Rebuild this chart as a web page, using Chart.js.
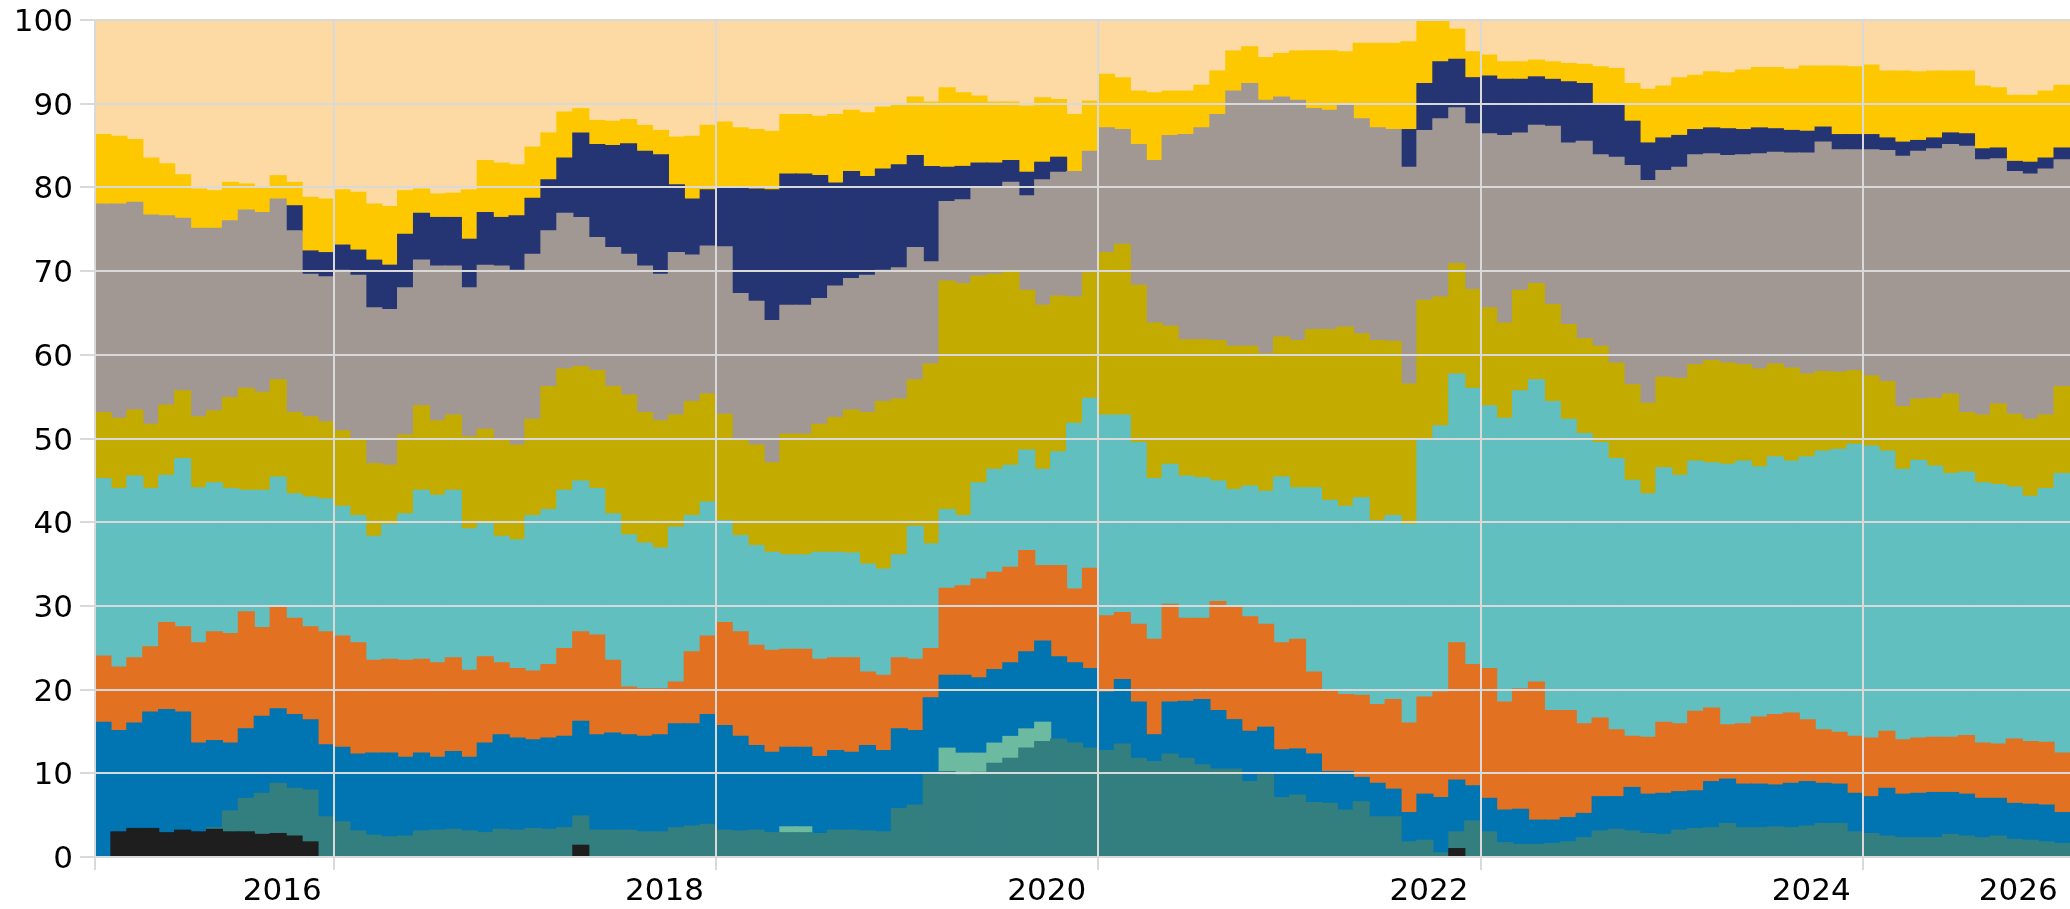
<!DOCTYPE html>
<html>
<head>
<meta charset="utf-8">
<script src="https://cdn.jsdelivr.net/npm/chart.js@4.4.1/dist/chart.umd.min.js"></script>
<style>
    html, body { margin: 0; padding: 0; background: #fff; }
    #wrap { width: 2070px; height: 909px; }
</style>
</head>
<body>
<div id="wrap"><canvas id="mixChart" width="2070" height="909"></canvas></div>
<script>
// Monthly categories, Oct 2014 .. Jan 2025 (124 bars)
const firstYear = 2014, firstMonth = 10, monthCount = 124;
const months = [];
for (let i = 0; i < monthCount; i++) {
    const m = firstMonth - 1 + i;
    months.push((firstYear + Math.floor(m / 12)) + '-' + String(m % 12 + 1).padStart(2, '0'));
}

// x axis: year labels, the month each label sits on, and the months carrying a grid line
const yearLabels  = ['2016', '2018', '2020', '2022', '2024', '2026'];
const yearLabelAt = ['2015-09', '2017-09', '2019-09', '2021-09', '2023-09', '2024-10'];
const yearLineAt  = ['2014-10', '2016-01', '2018-01', '2020-01', '2022-01', '2024-01'];

// Upper edge of each band (stacked level, %).
// Where a band is absent its edge equals the one below it.
const blackTop = [
    0, 3.0, 3.4, 3.4, 2.9, 3.2, 3.0, 3.3, 3.0, 3.0, 2.7, 2.8, 2.5, 1.8, 0, 0, 0, 0, 0, 0,
    0, 0, 0, 0, 0, 0, 0, 0, 0, 0, 1.4, 0, 0, 0, 0, 0, 0, 0, 0, 0,
    0, 0, 0, 0, 0, 0, 0, 0, 0, 0, 0, 0, 0, 0, 0, 0, 0, 0, 0, 0,
    0, 0, 0, 0, 0, 0, 0, 0, 0, 0, 0, 0, 0, 0, 0, 0, 0, 0, 0, 0,
    0, 0, 0, 0, 0, 1.0, 0, 0, 0, 0, 0, 0, 0, 0, 0, 0, 0, 0, 0, 0,
    0, 0, 0, 0, 0, 0, 0, 0, 0, 0, 0, 0, 0, 0, 0, 0, 0, 0, 0, 0, 0, 0, 0, 0
];
const tealTop = [
    0, 3.0, 3.4, 3.4, 2.9, 3.2, 3.0, 3.5, 5.5, 7.0, 7.6, 8.8, 8.2, 8.0, 4.8, 4.2, 3.1, 2.6, 2.4, 2.5,
    3.1, 3.2, 3.3, 3.1, 2.9, 3.3, 3.2, 3.4, 3.3, 3.5, 4.9, 3.2, 3.2, 3.2, 3.0, 3.0, 3.5, 3.7, 3.9, 3.2,
    3.1, 3.2, 2.9, 2.9, 2.9, 2.8, 3.2, 3.2, 3.1, 3.0, 5.8, 6.2, 9.8, 10.2, 9.8, 10.1, 11.2, 11.8, 13.0, 13.8,
    14.1, 13.6, 13.0, 12.7, 13.5, 11.8, 11.4, 12.3, 11.8, 11.0, 10.5, 10.5, 9.0, 9.8, 7.1, 7.4, 6.5, 6.4, 5.6, 6.6,
    4.8, 4.8, 1.8, 2.0, 0.5, 3.0, 4.3, 3.0, 1.7, 1.5, 1.5, 1.6, 1.8, 2.3, 3.1, 3.3, 3.1, 2.8, 2.7, 3.2,
    3.4, 3.5, 4.0, 3.5, 3.5, 3.6, 3.5, 3.7, 4.0, 4.0, 3.0, 2.8, 2.5, 2.3, 2.3, 2.3, 2.7, 2.5, 2.3, 2.5, 2.1, 2.0, 1.8, 1.6
];
const greenTop = [
    0, 3.0, 3.4, 3.4, 2.9, 3.2, 3.0, 3.5, 5.5, 7.0, 7.6, 8.8, 8.2, 8.0, 4.8, 4.2, 3.1, 2.6, 2.4, 2.5,
    3.1, 3.2, 3.3, 3.1, 2.9, 3.3, 3.2, 3.4, 3.3, 3.5, 4.9, 3.2, 3.2, 3.2, 3.0, 3.0, 3.5, 3.7, 3.9, 3.2,
    3.1, 3.2, 2.9, 3.6, 3.6, 2.8, 3.2, 3.2, 3.1, 3.0, 5.8, 6.2, 9.8, 13.0, 12.4, 12.4, 13.6, 14.4, 15.3, 16.1,
    14.1, 13.6, 13.0, 12.7, 13.5, 11.8, 11.4, 12.3, 11.8, 11.0, 10.5, 10.5, 9.0, 9.8, 7.1, 7.4, 6.5, 6.4, 5.6, 6.6,
    4.8, 4.8, 1.8, 2.0, 0.5, 3.0, 4.3, 3.0, 1.7, 1.5, 1.5, 1.6, 1.8, 2.3, 3.1, 3.3, 3.1, 2.8, 2.7, 3.2,
    3.4, 3.5, 4.0, 3.5, 3.5, 3.6, 3.5, 3.7, 4.0, 4.0, 3.0, 2.8, 2.5, 2.3, 2.3, 2.3, 2.7, 2.5, 2.3, 2.5, 2.1, 2.0, 1.8, 1.6
];
const blueTop = [
    16.1, 15.1, 16.0, 17.3, 17.6, 17.3, 13.6, 13.9, 13.6, 15.3, 16.8, 17.7, 17.0, 16.4, 13.4, 13.1, 12.3, 12.4, 12.4, 11.9,
    12.4, 11.9, 12.6, 11.9, 13.6, 14.6, 14.2, 14.0, 14.2, 14.4, 16.2, 14.6, 14.8, 14.6, 14.4, 14.6, 15.9, 15.9, 17.0, 15.7,
    14.4, 13.3, 12.5, 13.1, 13.1, 12.0, 12.7, 12.5, 13.3, 12.7, 15.3, 15.1, 19.0, 21.7, 21.7, 21.4, 22.4, 23.2, 24.5, 25.8,
    23.9, 23.2, 22.5, 19.7, 21.2, 18.5, 14.6, 18.5, 18.6, 18.8, 17.5, 16.4, 15.0, 15.5, 12.8, 12.9, 12.3, 10.2, 10.2, 9.5,
    8.8, 8.1, 5.3, 7.5, 7.1, 9.2, 8.5, 7.0, 5.6, 5.7, 4.4, 4.4, 4.7, 5.2, 7.2, 7.2, 8.3, 7.5, 7.6, 7.8,
    7.9, 9.0, 9.3, 8.7, 8.7, 8.6, 8.8, 9.0, 8.8, 8.7, 7.6, 7.2, 8.2, 7.5, 7.6, 7.7, 7.7, 7.5, 7.0, 7.0, 6.4, 6.3, 6.2, 5.3
];
const orangeTop = [
    24.0, 22.7, 23.8, 25.1, 28.0, 27.5, 25.6, 26.9, 26.7, 29.3, 27.4, 29.8, 28.5, 27.5, 26.9, 26.4, 25.6, 23.5, 23.6, 23.5,
    23.6, 23.2, 23.8, 22.3, 23.9, 23.2, 22.5, 22.2, 23.0, 24.9, 26.9, 26.5, 23.5, 20.3, 20.1, 20.1, 20.9, 24.5, 26.4, 28.0,
    26.9, 25.3, 24.7, 24.8, 24.8, 23.6, 23.8, 23.8, 22.1, 21.7, 23.8, 23.6, 24.9, 32.1, 32.4, 33.2, 34.0, 34.6, 36.6, 34.8,
    34.8, 32.0, 34.5, 28.8, 29.2, 27.8, 26.0, 30.2, 28.5, 28.5, 30.5, 29.8, 28.7, 27.8, 25.6, 26.0, 22.1, 20.0, 19.4, 19.3,
    18.2, 18.8, 16.0, 19.1, 19.7, 25.6, 23.0, 22.5, 18.5, 20.1, 20.9, 17.5, 17.5, 15.9, 16.6, 15.2, 14.4, 14.3, 16.1, 15.9,
    17.4, 17.8, 15.8, 15.9, 16.7, 17.0, 17.2, 16.4, 15.2, 14.9, 14.4, 14.2, 15.0, 14.0, 14.2, 14.3, 14.3, 14.5, 13.6, 13.5, 14.1, 13.8, 13.7, 12.4
];
const cyanTop = [
    45.2, 44.0, 45.5, 44.0, 45.6, 47.6, 44.1, 44.7, 44.0, 43.8, 43.8, 45.4, 43.4, 43.0, 42.8, 41.9, 40.8, 38.3, 39.7, 41.0,
    43.8, 43.2, 43.8, 39.2, 39.8, 38.3, 37.9, 40.8, 41.5, 43.8, 44.9, 44.0, 41.0, 38.5, 37.5, 36.9, 39.4, 40.8, 42.4, 40.2,
    38.4, 37.2, 36.4, 36.1, 36.1, 36.4, 36.4, 36.3, 35.0, 34.4, 36.1, 39.5, 37.4, 41.5, 40.8, 44.7, 46.3, 46.8, 48.6, 46.3,
    48.4, 51.8, 54.8, 52.8, 52.8, 49.5, 45.2, 46.9, 45.5, 45.3, 44.9, 43.9, 44.3, 43.7, 45.4, 44.1, 44.1, 42.6, 41.9, 42.9,
    40.2, 40.8, 39.7, 49.9, 51.5, 57.7, 56.0, 53.9, 52.4, 55.7, 57.0, 54.4, 52.3, 50.6, 49.5, 47.6, 45.0, 43.4, 46.5, 45.6,
    47.3, 47.1, 46.9, 47.3, 46.6, 47.8, 47.3, 47.8, 48.5, 48.7, 49.3, 49.1, 48.5, 46.3, 47.4, 46.7, 45.8, 46.0, 44.7, 44.5, 44.2, 43.1, 44.0, 45.8
];
const oliveTop = [
    53.1, 52.4, 53.4, 51.7, 54.0, 55.7, 52.6, 53.3, 54.9, 56.0, 55.5, 57.0, 53.1, 52.6, 52.0, 50.9, 49.9, 47.0, 46.8, 50.4,
    53.9, 52.1, 52.8, 50.2, 51.1, 50.0, 49.2, 52.3, 56.2, 58.3, 58.6, 58.1, 56.2, 55.2, 53.1, 52.1, 52.8, 54.4, 55.3, 52.9,
    49.9, 49.2, 47.1, 50.5, 50.5, 51.7, 52.5, 53.4, 53.1, 54.4, 54.7, 57.0, 58.9, 68.8, 68.5, 69.4, 69.6, 70.1, 67.7, 65.9,
    67.0, 66.9, 69.8, 72.2, 73.2, 68.3, 63.8, 63.4, 61.8, 61.8, 61.7, 61.0, 61.0, 60.1, 62.1, 61.7, 63.0, 63.0, 63.3, 62.5,
    61.7, 61.6, 56.5, 66.5, 66.9, 70.9, 67.8, 65.6, 63.8, 67.7, 68.5, 66.0, 63.6, 61.9, 61.0, 59.0, 56.4, 54.2, 57.3, 57.2,
    58.8, 59.3, 59.0, 58.8, 58.3, 58.9, 58.4, 57.7, 58.0, 57.9, 58.1, 57.5, 56.8, 53.8, 54.7, 54.8, 55.3, 53.1, 52.8, 54.1, 52.9, 52.3, 52.8, 56.2
];
const greyTop = [
    78.0, 78.0, 78.2, 76.7, 76.6, 76.3, 75.1, 75.1, 76.0, 77.3, 77.0, 78.6, 74.8, 69.6, 69.3, 70.1, 69.5, 65.6, 65.4, 68.0,
    71.3, 70.6, 70.6, 68.0, 70.7, 70.6, 70.1, 72.0, 74.8, 76.9, 76.4, 74.0, 72.8, 72.0, 70.6, 69.6, 72.2, 71.9, 73.0, 72.9,
    67.3, 66.4, 64.1, 65.9, 65.9, 66.7, 68.2, 69.1, 69.5, 70.1, 70.4, 72.8, 71.1, 78.3, 78.5, 79.9, 80.1, 80.6, 79.0, 80.9,
    81.8, 81.9, 84.3, 87.1, 86.9, 85.1, 83.2, 86.2, 86.3, 87.1, 88.7, 91.5, 92.4, 90.4, 90.8, 90.4, 89.4, 89.2, 89.8, 88.2,
    87.1, 86.9, 82.4, 86.8, 88.2, 89.5, 87.6, 86.4, 86.2, 86.5, 87.4, 87.3, 85.3, 85.5, 83.9, 83.6, 82.6, 80.8, 82.0, 82.4,
    83.9, 84.0, 83.8, 83.9, 84.0, 84.2, 84.1, 84.1, 85.4, 84.5, 84.5, 84.5, 84.4, 83.7, 84.3, 84.6, 85.1, 84.9, 83.3, 83.4, 81.9, 81.6, 82.2, 83.3
];
const navyTop = [
    78.0, 78.0, 78.2, 76.7, 76.6, 76.3, 75.1, 75.1, 76.0, 77.3, 77.0, 78.6, 77.8, 72.4, 72.2, 73.1, 72.5, 71.3, 70.7, 74.4,
    76.9, 76.4, 76.4, 73.8, 77.0, 76.4, 76.6, 78.7, 80.9, 83.5, 86.5, 85.1, 85.0, 85.2, 84.3, 83.9, 80.3, 78.6, 79.7, 80.1,
    80.1, 79.8, 79.7, 81.6, 81.6, 81.4, 80.5, 81.9, 81.3, 82.2, 82.7, 83.8, 82.5, 82.4, 82.5, 82.9, 82.9, 83.2, 81.8, 83.0,
    83.6, 81.9, 84.3, 87.1, 86.9, 85.1, 83.2, 86.2, 86.3, 87.1, 88.7, 91.5, 92.4, 90.4, 90.8, 90.4, 89.4, 89.2, 89.8, 88.2,
    87.1, 86.9, 86.9, 92.4, 95.0, 95.3, 93.1, 93.3, 92.9, 92.9, 93.2, 92.9, 92.6, 92.4, 90.0, 90.0, 87.9, 85.3, 85.9, 86.2,
    86.9, 87.1, 87.0, 86.9, 87.1, 87.0, 86.8, 86.7, 87.2, 86.3, 86.3, 86.3, 85.9, 85.4, 85.6, 85.9, 86.5, 86.4, 84.6, 84.7, 83.1, 83.0, 83.5, 84.7
];
const yellowTop = [
    86.3, 86.1, 85.7, 83.5, 82.8, 81.5, 79.8, 79.6, 80.6, 80.4, 80.0, 81.4, 80.6, 78.8, 78.6, 79.7, 79.4, 78.0, 77.7, 79.6,
    79.8, 79.2, 79.3, 79.7, 83.2, 82.9, 82.7, 84.8, 86.5, 89.0, 89.4, 88.0, 87.9, 88.1, 87.4, 86.8, 86.0, 86.1, 87.4, 87.8,
    87.1, 86.9, 86.7, 88.7, 88.7, 88.5, 88.7, 89.2, 88.9, 89.6, 89.8, 90.8, 90.2, 91.9, 91.3, 90.9, 90.2, 90.2, 89.7, 90.7,
    90.5, 88.7, 90.3, 93.5, 93.1, 91.5, 91.3, 91.5, 91.5, 92.2, 93.9, 96.3, 96.8, 95.5, 96.0, 96.3, 96.3, 96.3, 96.2, 97.2,
    97.2, 97.2, 97.4, 100, 100, 98.9, 96.2, 95.8, 95.0, 95.0, 95.2, 95.0, 94.8, 94.7, 94.4, 94.2, 92.4, 91.7, 92.1, 93.1,
    93.4, 93.8, 93.7, 94.0, 94.3, 94.3, 94.1, 94.5, 94.5, 94.5, 94.4, 94.6, 93.9, 93.9, 93.8, 93.9, 93.9, 93.9, 92.1, 91.9, 91.0, 91.0, 91.5, 92.2
];
const fullTop = 100;

// bottom to top
const bands = [
    { name: 'black',  top: blackTop,  color: '#1e1e1e' },
    { name: 'teal',   top: tealTop,   color: '#337f80' },
    { name: 'green',  top: greenTop,  color: '#6cba9f' },
    { name: 'blue',   top: blueTop,   color: '#0174b2' },
    { name: 'orange', top: orangeTop, color: '#e27221' },
    { name: 'cyan',   top: cyanTop,   color: '#61bfbf' },
    { name: 'olive',  top: oliveTop,  color: '#c4ab00' },
    { name: 'grey',   top: greyTop,   color: '#a29893' },
    { name: 'navy',   top: navyTop,   color: '#253473' },
    { name: 'yellow', top: yellowTop, color: '#fec800' },
    { name: 'peach',  top: null,      color: '#fddaa4' }
];

// floating bars: [edge of band below, edge of this band]
const datasets = bands.map((b, k) => ({
    label: b.name,
    data: months.map((_, i) => {
        const lo = k === 0 ? 0 : bands[k - 1].top[i];
        const hi = b.top ? b.top[i] : fullTop;
        return hi > lo ? [lo, hi] : null;
    }),
    backgroundColor: b.color,
    borderWidth: 0,
    inflateAmount: 0.6,   // hides hairline seams between neighbouring bars
    grouped: false,
    barPercentage: 1,
    categoryPercentage: 1
}));

const gridGrey = '#d9d9d9';
const tickFont = { family: 'DejaVu Sans', size: 31 };

new Chart(document.getElementById('mixChart'), {
    type: 'bar',
    data: { labels: months, datasets: datasets },
    options: {
        responsive: false,
        animation: false,
        devicePixelRatio: 1,
        layout: { padding: { top: 20, right: 0, bottom: 0, left: 0 } },
        plugins: { legend: { display: false }, tooltip: { enabled: false } },
        scales: {
            x: {
                type: 'category',
                offset: true,
                z: 1,
                border: { display: false },
                grid: {
                    z: 1,
                    offset: true,
                    lineWidth: 2,
                    tickLength: 13,
                    color: ctx => (ctx.index !== undefined && yearLineAt.includes(months[ctx.index])) ? gridGrey : 'rgba(0,0,0,0)'
                },
                ticks: {
                    autoSkip: false,
                    maxRotation: 0,
                    minRotation: 0,
                    labelOffset: 4,
                    padding: 3,
                    color: '#000',
                    font: tickFont,
                    callback: (val, i) => {
                        const k = yearLabelAt.indexOf(months[i]);
                        return k >= 0 ? yearLabels[k] : '';
                    }
                },
                afterFit: s => { s.height = 52; s.paddingLeft = 0; s.paddingRight = 0; }
            },
            y: {
                min: 0,
                max: 100,
                z: 1,
                border: { display: false },
                grid: { z: 1, color: gridGrey, lineWidth: 2, tickLength: 15 },
                ticks: { stepSize: 10, padding: 7, labelOffset: 3, color: '#000', font: tickFont },
                afterFit: s => { s.width = 95; s.paddingTop = 0; s.paddingBottom = 0; }
            }
        }
    }
});
</script>
</body>
</html>
